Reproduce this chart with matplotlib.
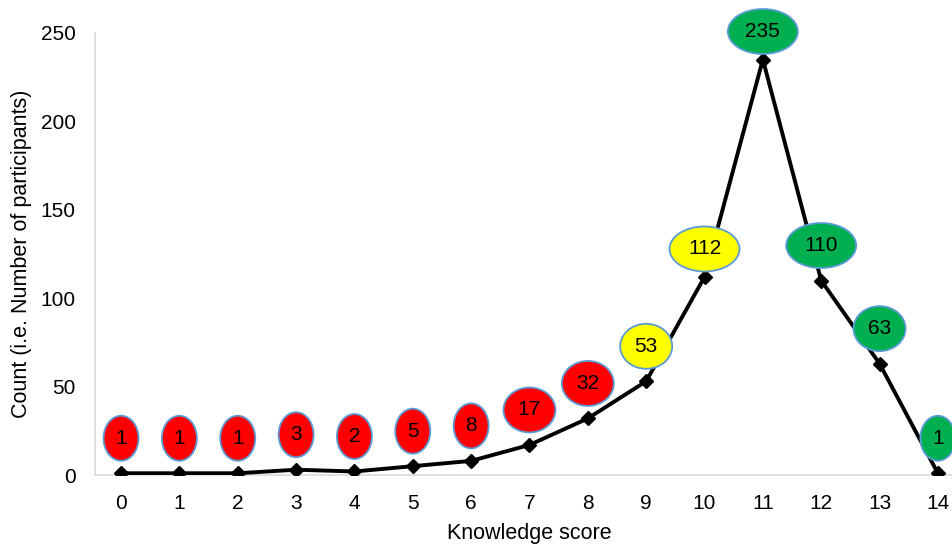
import matplotlib
matplotlib.use("Agg")
import matplotlib.pyplot as plt
from matplotlib.patches import Ellipse
from matplotlib.transforms import Affine2D, ScaledTranslation

plt.rcParams['font.family'] = ['Liberation Sans', 'DejaVu Sans']

scores = list(range(15))
counts = [1, 1, 1, 3, 2, 5, 8, 17, 32, 53, 112, 235, 110, 63, 1]
# colours per score: 0-8 red, 9-10 yellow, 11-14 green
label_colors = ['#FF0000'] * 9 + ['#FFFF00'] * 2 + ['#00B050'] * 4
y_ticks = [0, 50, 100, 150, 200, 250]

DPI = 100
fig = plt.figure(figsize=(9.53, 5.46), dpi=DPI)
ax = fig.add_axes([0.0997, 0.130, 0.912, 0.8096])

ax.plot(scores, counts, color='black', lw=2.8, marker='D', ms=7.2,
        markerfacecolor='black', markeredgecolor='black', zorder=3)

ax.set_xlim(-0.446, 14.45)
ax.set_ylim(0, 250)
ax.set_xticks(scores)
ax.set_yticks(y_ticks)
ax.tick_params(axis='both', length=0, labelsize=15)
ax.tick_params(axis='y', pad=14)
ax.tick_params(axis='x', pad=14)
for s in ['top', 'right']:
    ax.spines[s].set_visible(False)
for s in ['left', 'bottom']:
    ax.spines[s].set_color('#D9D9D9')
    ax.spines[s].set_linewidth(1.2)

ax.set_xlabel('Knowledge score', fontsize=15.5, labelpad=7)
ax.set_ylabel('Count (i.e. Number of participants)', fontsize=15.5, labelpad=6)

# data labels in ellipses (sizes in pixels)
for x, v, c in zip(scores, counts, label_colors):
    nd = len(str(v))
    w = {1: 35, 2: 52, 3: 70}[nd]
    h = 45
    dy = 28 if x in (10, 11) else 35
    tr = (Affine2D().translate(0, dy) + ScaledTranslation(x, v, ax.transData))
    e = Ellipse((0, 0), w, h, facecolor=c, edgecolor='#5B9BD5', lw=1.3,
                transform=tr, clip_on=False, zorder=4)
    ax.add_patch(e)
    ax.text(0, 0, str(v), transform=tr, ha='center', va='center',
            fontsize=15, color='black', zorder=5, clip_on=False)

fig.savefig('out.png', dpi=DPI)
